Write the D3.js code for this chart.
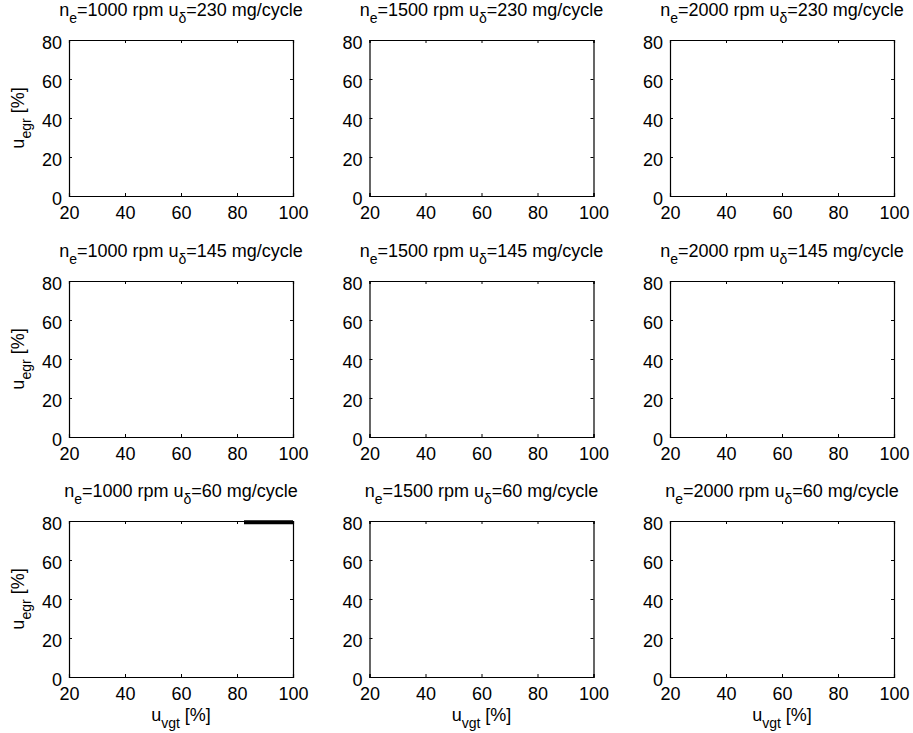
<!DOCTYPE html>
<html>
<head>
<meta charset="utf-8">
<script src="https://cdn.jsdelivr.net/npm/d3@7"></script>
<style>
  body { margin: 0; background: #fff; }
  svg { display: block; font-family: "Liberation Sans", Arial, sans-serif; }
</style>
</head>
<body>
<div id="chart"></div>
<script>
// ---- dados ----
const speeds = [1000, 1500, 2000];        // n_e [rpm], colunas
const fuels = [230, 145, 60];             // u_delta [mg/cycle], linhas
const xTicks = [20, 40, 60, 80, 100];     // u_vgt [%]
const yTicks = [0, 20, 40, 60, 80];       // u_egr [%]
// unica curva visivel: painel n_e=1000, u_delta=60
const seriesSpeed = 1000;
const seriesFuel = 60;
const seriesVgt = [82.5, 90, 100];
const seriesEgr = [79.3, 79.3, 79.3];

const W = 913, H = 733;
const colLeft = [69, 369.5, 670];
const rowTop = [40, 281, 521];
const pw = 224, ph = 156;
const FS = 18, SUB = 14, SUBDY = 7;

const svg = d3.select('#chart').append('svg')
  .attr('width', W).attr('height', H);

const x = d3.scaleLinear().domain([20, 100]).range([0, pw]);
const y = d3.scaleLinear().domain([0, 80]).range([ph, 0]);

// texto com subscrito: partes = [[texto, sub?], ...]
function richText(sel, parts) {
  let sub = false;
  parts.forEach(([txt, isSub]) => {
    const ts = sel.append('tspan').text(txt);
    if (isSub && !sub) ts.attr('dy', SUBDY).attr('font-size', SUB);
    else if (isSub) ts.attr('font-size', SUB);
    else if (sub) ts.attr('dy', -SUBDY);
    sub = isSub;
  });
}

fuels.forEach((fuel, r) => {
  speeds.forEach((speed, c) => {
    const g = svg.append('g').attr('transform', `translate(${colLeft[c]},${rowTop[r]})`);

    // eixos com ticks para dentro (estilo matlab), tambem no topo/direita
    const tk = 3;
    const axB = g.append('g').attr('transform', `translate(0,${ph})`)
      .call(d3.axisBottom(x).tickValues(xTicks).tickSize(-tk).tickPadding(6).tickFormat(d3.format('d')));
    const axT = g.append('g')
      .call(d3.axisTop(x).tickValues(xTicks).tickSize(-tk).tickFormat(''));
    const axL = g.append('g')
      .call(d3.axisLeft(y).tickValues(yTicks).tickSize(-tk).tickPadding(7).tickFormat(d3.format('d')));
    const axR = g.append('g').attr('transform', `translate(${pw},0)`)
      .call(d3.axisRight(y).tickValues(yTicks).tickSize(-tk).tickFormat(''));
    [axB, axT, axL, axR].forEach((a) => {
      a.select('.domain').attr('stroke', '#000').attr('stroke-width', 1.2);
      a.selectAll('.tick line').attr('stroke', '#000');
      a.selectAll('text').attr('font-size', FS).attr('fill', '#000')
        .attr('font-family', '"Liberation Sans", Arial, sans-serif');
    });
    axB.selectAll('text').attr('dy', '0.95em');
    axL.selectAll('text').attr('dy', '0.45em');

    // titulo
    const t = g.append('text').attr('x', pw / 2).attr('y', -24)
      .attr('text-anchor', 'middle').attr('font-size', FS);
    richText(t, [['n', false], ['e', true], [`=${speed} rpm u`, false], ['δ', true], [`=${fuel} mg/cycle`, false]]);

    if (c === 0) {
      const yl = g.append('text')
        .attr('transform', `translate(-45,${ph / 2}) rotate(-90)`)
        .attr('text-anchor', 'middle').attr('font-size', FS);
      richText(yl, [['u', false], ['egr', true], [' [%]', false]]);
    }
    if (r === fuels.length - 1) {
      const xl = g.append('text')
        .attr('x', pw / 2).attr('y', ph + 44)
        .attr('text-anchor', 'middle').attr('font-size', FS);
      richText(xl, [['u', false], ['vgt', true], [' [%]', false]]);
    }

    if (speed === seriesSpeed && fuel === seriesFuel) {
      const pts = seriesVgt.map((v, i) => [v, seriesEgr[i]]);
      g.append('path').datum(pts)
        .attr('fill', 'none').attr('stroke', '#000').attr('stroke-width', 4)
        .attr('d', d3.line().x((d) => x(d[0])).y((d) => y(d[1])));
    }
  });
});
</script>
</body>
</html>
